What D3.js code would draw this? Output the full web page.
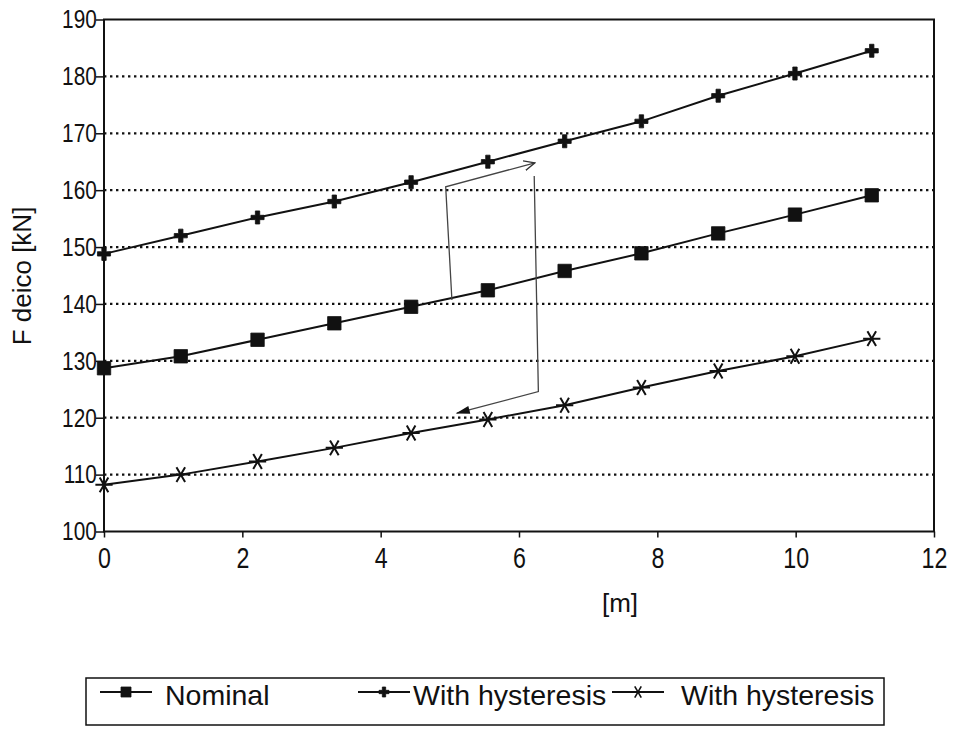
<!DOCTYPE html>
<body style="margin:0;background:#fff">
<div id="container"></div>
<script src="https://cdn.jsdelivr.net/npm/d3@7/dist/d3.min.js"></script>
<script>

// chart size and margins
const width = 956;
const height = 729;
const marginTop = 19.5;
const marginRight = 22;
const marginBottom = 197.5;
const marginLeft = 104;
const font = "'Liberation Sans', Arial, sans-serif";

/*** DATA ***/

// distance along the line [m]
const distance = [0, 1.11, 2.22, 3.33, 4.44, 5.55, 6.66, 7.77, 8.88, 9.99, 11.1];
// F deico [kN]
const nominal  = [128.7, 130.8, 133.7, 136.6, 139.5, 142.4, 145.8, 148.9, 152.4, 155.7, 159.1];
const hystUp   = [148.8, 152.0, 155.2, 158.0, 161.4, 165.0, 168.6, 172.1, 176.6, 180.5, 184.5];
const hystDown = [108.2, 110.0, 112.3, 114.7, 117.3, 119.7, 122.2, 125.3, 128.2, 130.8, 133.9];

const seriesNames = ["Nominal", "With hysteresis", "With hysteresis"];
const xTicks = [0, 2, 4, 6, 8, 10, 12];
const yTicks = [100, 110, 120, 130, 140, 150, 160, 170, 180, 190];

// the hand drawn hysteresis loop, in data units
const loopUp = [[5.03, 140.7], [4.94, 160.6], [6.23, 164.8]];
const loopDown = [[6.22, 162.5], [6.28, 124.6], [5.10, 120.8]];

/*** SCALES ***/

const x = d3.scaleLinear()
    .domain([0, 12])
    .range([marginLeft, width - marginRight]);

const y = d3.scaleLinear()
    .domain([100, 190])
    .range([height - marginBottom, marginTop]);

const svg = d3.create("svg")
    .attr("width", width)
    .attr("height", height)
    .attr("font-family", font);

// arrow heads for the loop
const defs = svg.append("defs");
defs.append("marker")
    .attr("id", "openArrow")
    .attr("viewBox", "0 -6 12 12")
    .attr("refX", 11).attr("refY", 0)
    .attr("markerWidth", 12).attr("markerHeight", 12)
    .attr("markerUnits", "userSpaceOnUse")
    .attr("orient", "auto")
    .append("path")
    .attr("d", "M0,-5L11,0L0,5")
    .attr("fill", "none")
    .attr("stroke", "#333")
    .attr("stroke-width", 1.3);
defs.append("marker")
    .attr("id", "fillArrow")
    .attr("viewBox", "0 -5 14 10")
    .attr("refX", 13).attr("refY", 0)
    .attr("markerWidth", 16).attr("markerHeight", 10)
    .attr("markerUnits", "userSpaceOnUse")
    .attr("orient", "auto")
    .append("path")
    .attr("d", "M0,-4L14,0L0,4Z")
    .attr("fill", "#111");

/*** GRID AND FRAME ***/

svg.append("g")
    .selectAll("line")
    .data(yTicks.filter(d => d > 100 && d < 190))
    .join("line")
    .attr("x1", x(0))
    .attr("x2", x(12))
    .attr("y1", d => y(d))
    .attr("y2", d => y(d))
    .attr("stroke", "#111")
    .attr("stroke-width", 2.2)
    .attr("stroke-dasharray", "2.4,3.6");

svg.append("rect")
    .attr("x", x(0))
    .attr("y", y(190))
    .attr("width", x(12) - x(0))
    .attr("height", y(100) - y(190))
    .attr("fill", "none")
    .attr("stroke", "#111")
    .attr("stroke-width", 2);

// y axis (labels squeezed a bit, the original face is a condensed sans)
svg.append("g")
    .attr("transform", `translate(${x(0)},0)`)
    .call(d3.axisLeft(y).tickValues(yTicks).tickSize(8).tickPadding(1))
    .call(g => g.select(".domain").remove())
    .call(g => g.selectAll(".tick line").attr("stroke", "#111").attr("stroke-width", 1.5))
    .call(g => g.selectAll(".tick text")
        .attr("font-family", font)
        .attr("font-size", 26)
        .attr("transform", "scale(0.8,1)")
        .attr("fill", "#111"));

// x axis
svg.append("g")
    .attr("transform", `translate(0,${y(100)})`)
    .call(d3.axisBottom(x).tickValues(xTicks).tickSize(6).tickPadding(10))
    .call(g => g.select(".domain").remove())
    .call(g => g.selectAll(".tick line").attr("stroke", "#111").attr("stroke-width", 1.5))
    .call(g => g.selectAll(".tick text")
        .attr("font-family", font)
        .attr("font-size", 29)
        .attr("transform", "scale(0.8,1)")
        .attr("fill", "#111"));

// axis labels
svg.append("text")
    .attr("x", 620)
    .attr("y", 612)
    .attr("text-anchor", "middle")
    .attr("font-size", 26)
    .attr("fill", "#111")
    .text("[m]");

svg.append("text")
    .attr("transform", "translate(31,276) rotate(-90)")
    .attr("text-anchor", "middle")
    .attr("font-size", 26)
    .attr("fill", "#111")
    .text("F deico [kN]");

/*** LINES AND MARKERS ***/

const line = d3.line()
    .x(d => x(d[0]))
    .y(d => y(d[1]));

const symSquare = d3.symbol(d3.symbolSquare, 180);
const symCross = d3.symbol(d3.symbolCross, 95);
const symStar = d3.symbol(d3.symbolAsterisk, 210);

const series = [
    {name: seriesNames[0], values: nominal, sym: symSquare, filled: true},
    {name: seriesNames[1], values: hystUp, sym: symCross, filled: true},
    {name: seriesNames[2], values: hystDown, sym: symStar, filled: false}
];

for (const s of series) {
    const pts = distance.map((d, i) => [d, s.values[i]]);
    svg.append("path")
        .attr("fill", "none")
        .attr("stroke", "#111")
        .attr("stroke-width", 2)
        .attr("d", line(pts));
    svg.append("g")
        .selectAll("path")
        .data(pts)
        .join("path")
        .attr("transform", d => `translate(${x(d[0])},${y(d[1])})` + (s.filled ? "" : " rotate(90)"))
        .attr("d", s.sym())
        .attr("fill", s.filled ? "#111" : "none")
        .attr("stroke", "#111")
        .attr("stroke-width", s.filled ? 0.8 : 2);
}

// hysteresis loop sketch
svg.append("path")
    .attr("fill", "none")
    .attr("stroke", "#444")
    .attr("stroke-width", 1.3)
    .attr("marker-end", "url(#openArrow)")
    .attr("d", line(loopUp));

svg.append("path")
    .attr("fill", "none")
    .attr("stroke", "#444")
    .attr("stroke-width", 1.3)
    .attr("marker-end", "url(#fillArrow)")
    .attr("d", line(loopDown));

/*** LEGEND ***/

const legend = svg.append("g");
legend.append("rect")
    .attr("x", 86)
    .attr("y", 678)
    .attr("width", 798)
    .attr("height", 47)
    .attr("fill", "none")
    .attr("stroke", "#111")
    .attr("stroke-width", 1.5);

const legendX = [100, 358, 612];
const legendTextX = [165, 413, 681];
const legendSize = [100, 55, 120];
series.forEach((s, i) => {
    const x0 = legendX[i];
    legend.append("line")
        .attr("x1", x0).attr("x2", x0 + 52)
        .attr("y1", 692).attr("y2", 692)
        .attr("stroke", "#111")
        .attr("stroke-width", 2);
    legend.append("path")
        .attr("transform", `translate(${x0 + 26},692)` + (s.filled ? "" : " rotate(90)"))
        .attr("d", d3.symbol(s.sym.type(), legendSize[i])())
        .attr("fill", s.filled ? "#111" : "none")
        .attr("stroke", "#111")
        .attr("stroke-width", s.filled ? 0.8 : 1.6);
    legend.append("text")
        .attr("x", legendTextX[i])
        .attr("y", 705)
        .attr("font-size", 28.5)
        .attr("fill", "#111")
        .text(s.name);
});

container.append(svg.node());
</script>
</body>
